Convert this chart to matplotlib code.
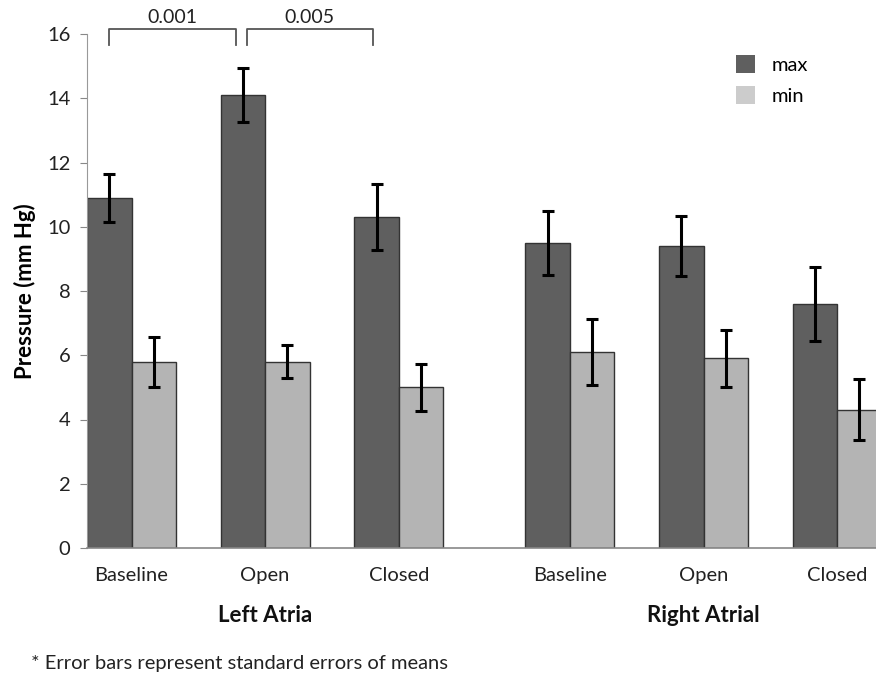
import numpy as np
import matplotlib
matplotlib.use('Agg')
import matplotlib.pyplot as plt
from matplotlib.patches import Patch

plt.rcParams['font.family'] = ['Lato', 'DejaVu Sans']

# data
conditions = ['Baseline', 'Open', 'Closed', 'Baseline', 'Open', 'Closed']
groups = ['Left Atria', 'Right Atrial']
max_vals = [10.9, 14.1, 10.3, 9.5, 9.4, 7.6]
max_err = [0.75, 0.85, 1.03, 1.0, 0.92, 1.16]
min_vals = [5.8, 5.8, 5.0, 6.1, 5.9, 4.3]
min_err = [0.78, 0.52, 0.73, 1.03, 0.88, 0.95]
p_labels = ['0.001', '0.005']

dark = '#5f5f5f'
light = '#b4b4b4'

x = np.array([0, 1, 2, 3.28, 4.28, 5.28])
w = 0.333

fig = plt.figure(figsize=(8.76, 6.77), dpi=100)
ax = fig.add_axes([87 / 876, (677 - 548) / 677, 1 - 87 / 876, (548 - 34) / 677])

ekw = dict(elinewidth=2.2, capsize=4, capthick=2.2, ecolor='black')
ax.bar(x - w / 2, max_vals, w, yerr=max_err, color=dark, edgecolor='#333333',
       linewidth=1, error_kw=ekw)
ax.bar(x + w / 2, min_vals, w, yerr=min_err, color=light, edgecolor='#333333',
       linewidth=1, error_kw=ekw)

ax.set_xlim(-w, 5.57)
ax.set_ylim(0, 16)
ax.set_yticks(range(0, 17, 2))
ax.set_xticks(x)
ax.set_xticklabels(conditions, fontsize=14.5, color='#222222')
ax.tick_params(axis='x', length=0, pad=14)
ax.tick_params(axis='y', length=5, color='#888888', labelsize=14.5,
               labelcolor='#222222', pad=7)
for s in ['top', 'right']:
    ax.spines[s].set_visible(False)
ax.spines['left'].set_color('#999999')
ax.spines['bottom'].set_color('#888888')
ax.spines['bottom'].set_linewidth(1.2)

ax.set_ylabel('Pressure (mm Hg)', fontsize=16, fontweight='bold', labelpad=8)

# group labels
ax.text(x[1], -2.1, groups[0], ha='center', va='center', fontsize=16,
        fontweight='bold', color='#111111')
ax.text(x[4], -2.1, groups[1], ha='center', va='center', fontsize=16,
        fontweight='bold', color='#111111')

# significance brackets
pairs = [(x[0] - w / 2, x[1] - w / 2 - 0.05), (x[1] - w / 2 + 0.03, x[2] - w / 2 - 0.03)]
for (x0, x1), lab in zip(pairs, p_labels):
    ax.plot([x0, x0, x1, x1], [15.67, 16.16, 16.16, 15.67], color='#555555',
            lw=1.3, clip_on=False)
    ax.text((x0 + x1) / 2, 16.25, lab, ha='center', va='bottom', fontsize=14,
            color='#222222')

handles = [Patch(facecolor=dark, label='max'), Patch(facecolor='#cccccc', label='min')]
ax.legend(handles=handles, loc='upper left', bbox_to_anchor=(0.8, 0.995),
          frameon=False, fontsize=14.5, handlelength=0.95, handleheight=1.0,
          labelspacing=0.6, handletextpad=0.8)

fig.text(31 / 876, 1 - 663 / 677, '* Error bars represent standard errors of means',
         fontsize=14.5, va='center', ha='left', color='#222222')

fig.savefig('out.png', dpi=100)
